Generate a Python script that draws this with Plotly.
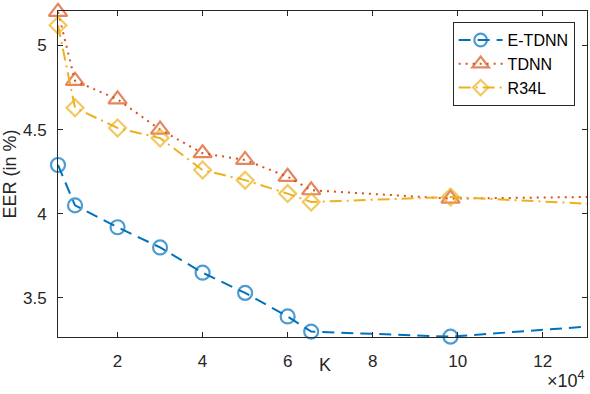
import plotly.graph_objects as go

# Data
k_values = [5994, 10000, 20000, 30000, 40000, 50000, 60000, 65536, 98304, 130400]
etdnn = [4.29, 4.05, 3.92, 3.80, 3.65, 3.53, 3.39, 3.30, 3.27, 3.33]
tdnn = [5.20, 4.79, 4.68, 4.50, 4.36, 4.32, 4.22, 4.14, 4.09, 4.10]
r34l = [5.12, 4.63, 4.51, 4.45, 4.26, 4.20, 4.12, 4.07, 4.10, 4.06]
series_names = ["E-TDNN", "TDNN", "R34L"]

x_tickvals = [20000, 40000, 60000, 80000, 100000, 120000]
x_ticktext = ["2", "4", "6", "8", "10", "12"]
y_tickvals = [3.5, 4.0, 4.5, 5.0]
y_ticktext = ["3.5", "4", "4.5", "5"]

FONT = "Liberation Sans, Arial, Helvetica, sans-serif"
AX = "#262626"

colors = ["#0072BD", "#D95319", "#EDB120"]
symbols = ["circle-open", "triangle-up-open", "diamond-open"]
sizes = [14, 16, 13]
dashes = ["12px,7px", "2px,5px", "12px,5px,2px,5px"]

n = len(k_values)
fig = go.Figure()
for name, ys, c, s, sz, d in zip(series_names, [etdnn, tdnn, r34l], colors, symbols, sizes, dashes):
    fig.add_trace(go.Scatter(
        x=k_values, y=ys, name=name, mode="lines+markers",
        line=dict(color=c, width=2, dash=d),
        marker=dict(symbol=s, size=[sz] * (n - 1) + [0], color=c, line=dict(color=c, width=2.2)),
        cliponaxis=False,
    ))

axis_common = dict(
    showline=True, linecolor=AX, linewidth=1, mirror="ticks",
    ticks="inside", ticklen=5, tickcolor=AX, tickwidth=1,
    showgrid=False, zeroline=False, automargin=False,
    tickfont=dict(family=FONT, size=17, color=AX),
)

fig.update_layout(
    width=590, height=394,
    margin=dict(l=58, r=3, t=11, b=57),
    paper_bgcolor="white", plot_bgcolor="white",
    font=dict(family=FONT, color=AX),
    xaxis=dict(range=[5994, 130400], tickvals=x_tickvals, ticktext=x_ticktext,
               ticklabelstandoff=9, **axis_common),
    yaxis=dict(range=[3.268, 5.205], tickvals=y_tickvals, ticktext=y_ticktext,
               ticklabelstandoff=7,
               title=dict(text="EER (in %)", font=dict(family=FONT, size=18, color=AX), standoff=6),
               **axis_common),
    legend=dict(
        x=0.9766, y=0.966, xanchor="right", yanchor="top",
        bgcolor="white", bordercolor=AX, borderwidth=1,
        font=dict(family=FONT, size=16, color="black"),
        tracegroupgap=0, itemwidth=44,
    ),
    showlegend=True,
    annotations=[
        dict(x=0.505, y=-0.087, xref="paper", yref="paper", xanchor="center", yanchor="middle",
             text="K", showarrow=False, font=dict(family=FONT, size=18, color=AX)),
        dict(x=1.0, y=-0.09, xref="paper", yref="paper", xanchor="right", yanchor="top",
             text="×10<sup>4</sup>", showarrow=False, font=dict(family=FONT, size=18, color=AX)),
    ],
)

fig.write_html("out.html", config={"displayModeBar": False},
               post_script="document.body.style.margin='0';document.body.style.padding='0';")
